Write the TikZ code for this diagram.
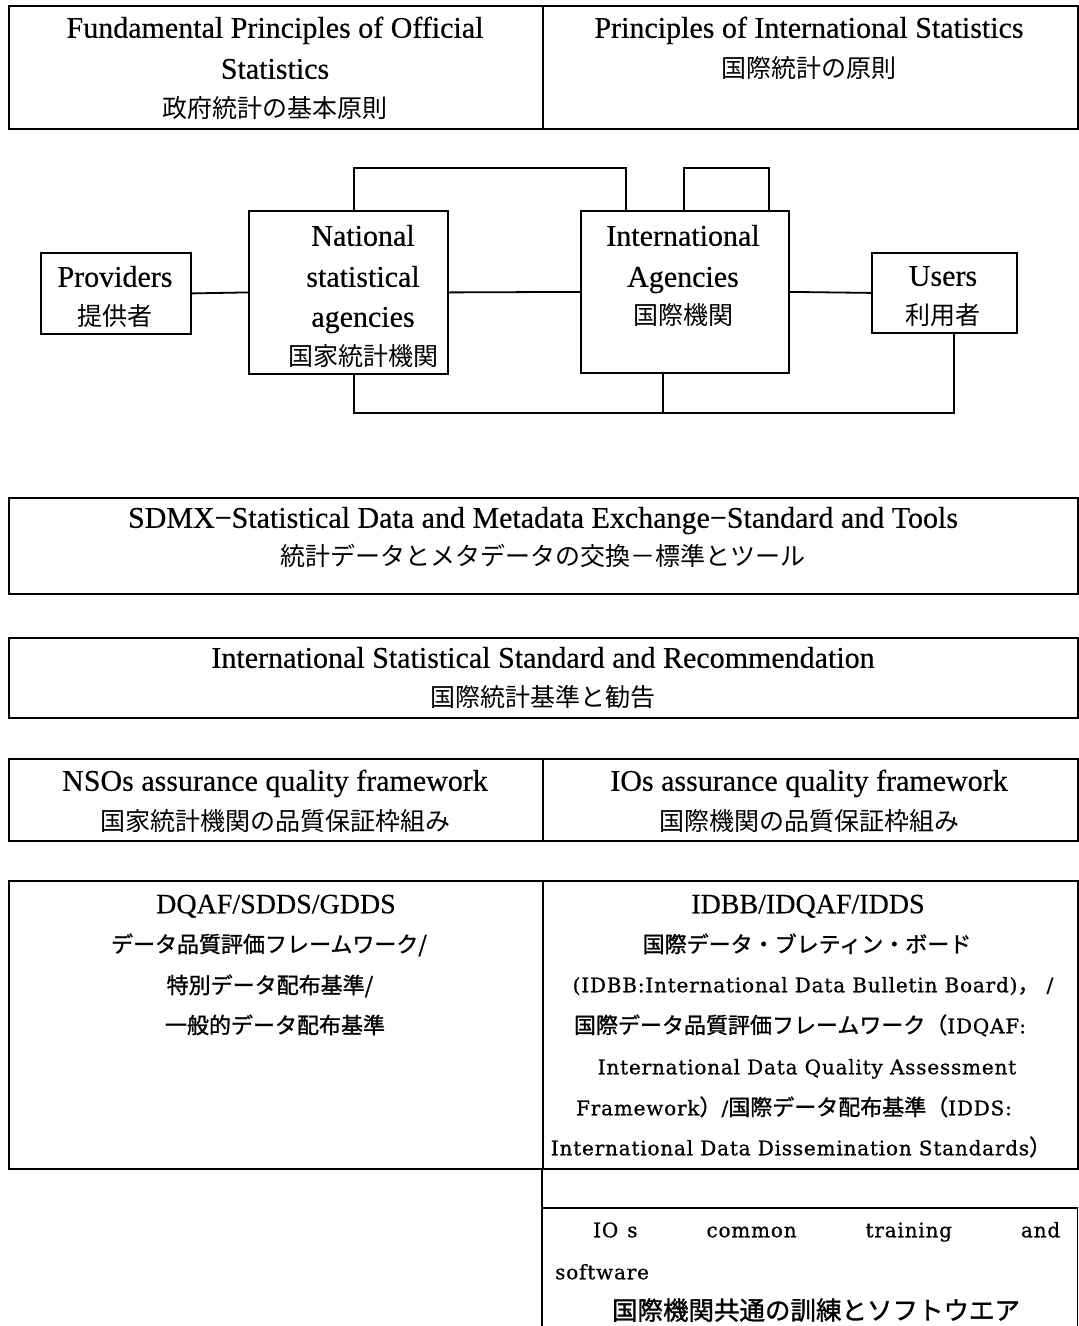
\documentclass[tikz,border=0pt]{standalone}
\usepackage{fontspec}
\setmainfont[FakeBold=0.4]{Liberation Serif}
\newfontfamily\jpf{Noto Sans CJK JP}
\newfontfamily\jpb[FakeBold=1.2]{Noto Sans CJK JP}
\newfontfamily\cenf[LetterSpace=4,FakeBold=0.8]{DejaVu Serif}
\newcommand\JB[1]{{\jpb\fontsize{22}{26}\selectfont #1}}
\begin{document}
\begin{tikzpicture}[x=1pt,y=-1pt,
  boxn/.style={draw, line width=1.8pt, inner sep=0pt, anchor=north west},
  ln/.style={inner sep=0pt, anchor=center},
  tim/.style={ln, font=\fontsize{30}{36}\selectfont, text height=19.5pt, text depth=0pt},
  timt/.style={ln, font=\fontsize{28}{34}\selectfont, text height=18.5pt, text depth=0pt},
  jpl/.style={ln, font=\jpf\fontsize{25}{30}\selectfont, text height=19pt, text depth=0pt},
  jps/.style={ln, font=\jpb\fontsize{22}{26}\selectfont, text height=16.7pt, text depth=0pt},
  jpm/.style={ln, font=\jpb\fontsize{25.5}{30}\selectfont, text height=19.4pt, text depth=0pt},
  cen/.style={ln, font=\cenf\fontsize{20}{24}\selectfont, text height=14.5pt, text depth=0pt},
  conn/.style={line width=1.8pt}
]
\useasboundingbox (0,0) rectangle (1079,1326);

% ---------- top principles ----------
\node[boxn, minimum width=534pt, minimum height=123pt] (fpl) at (8,5) {};
\node[boxn, minimum width=535pt, minimum height=123pt] (pis) at (542,5) {};
\node[tim] (t1a) at (275,28) {Fundamental Principles of Official};
\node[tim] (t1b) at (275,69) {Statistics};
\node[jpl] (t1c) at (275,108) {政府統計の基本原則};
\node[tim] (t2a) at (809,28) {Principles of International Statistics};
\node[jpl] (t2b) at (809,68) {国際統計の原則};

% ---------- actors ----------
\node[boxn, minimum width=150pt, minimum height=81pt] (prov) at (40,252) {};
\node[boxn, minimum width=199pt, minimum height=163pt] (nat) at (248,210) {};
\node[boxn, minimum width=208pt, minimum height=162pt] (intl) at (580,210) {};
\node[boxn, minimum width=145pt, minimum height=80pt] (users) at (871,252) {};

\node[tim] (pa) at (115,277) {Providers};
\node[jpl] (pb) at (115,316) {提供者};
\node[tim] (na) at (363,236) {National};
\node[tim] (nb) at (363,277) {statistical};
\node[tim] (nc) at (363,317) {agencies};
\node[jpl] (nd) at (363,356) {国家統計機関};
\node[tim] (ia) at (683,236) {International};
\node[tim] (ib) at (683,277) {Agencies};
\node[jpl] (ic) at (683,315) {国際機関};
\node[tim] (ua) at (943,276) {Users};
\node[jpl] (ub) at (943,315) {利用者};

\draw[conn] (prov.east) -- (nat.west);
\draw[conn] (nat.east) -- (intl.west);
\draw[conn] (intl.east) -- (users.west);
\draw[conn] ([xshift=5.5pt]nat.north) -- ++(0,-42) -| ([xshift=-59pt]intl.north);
\draw[conn] ([xshift=-1pt]intl.north) -- ++(0,-42) -| ([xshift=84pt]intl.north);
\coordinate (jb) at (663,413);
\draw[conn] ([xshift=5.5pt]nat.south) |- (jb) -| ([xshift=9.5pt]users.south);
\draw[conn] (intl.south -| jb) -- (jb);

% ---------- SDMX ----------
\node[boxn, minimum width=1069pt, minimum height=96pt] (sdmx) at (8,497) {};
\node[tim] (sa) at (543,518) {SDMX−Statistical Data and Metadata Exchange−Standard and Tools};
\node[jpl] (sb) at (543,556) {統計データとメタデータの交換－標準とツール};

% ---------- ISS ----------
\node[boxn, minimum width=1069pt, minimum height=80pt] (iss) at (8,637) {};
\node[tim] (isa) at (543,658) {International Statistical Standard and Recommendation};
\node[jpl] (isb) at (543,697) {国際統計基準と勧告};

% ---------- quality frameworks ----------
\node[boxn, minimum width=534pt, minimum height=82pt] (nsoq) at (8,758) {};
\node[boxn, minimum width=535pt, minimum height=82pt] (ioq) at (542,758) {};
\node[tim] (qa) at (275,781) {NSOs assurance quality framework};
\node[jpl] (qb) at (275,821) {国家統計機関の品質保証枠組み};
\node[tim] (qc) at (809,781) {IOs assurance quality framework};
\node[jpl] (qd) at (809,821) {国際機関の品質保証枠組み};

% ---------- DQAF / IDBB ----------
\node[boxn, minimum width=534pt, minimum height=288pt] (dqaf) at (8,880) {};
\node[boxn, minimum width=535pt, minimum height=288pt] (idbb) at (542,880) {};
\node[timt] (da) at (276,904) {DQAF/SDDS/GDDS};
\node[jps] (db) at (269,944) {データ品質評価フレームワーク/};
\node[jps] (dc) at (270,985) {特別データ配布基準/};
\node[jps] (dd) at (275,1025) {一般的データ配布基準};

\node[timt] (ra) at (808,904) {IDBB/IDQAF/IDDS};
\node[jps] (rb) at (807,944) {国際データ・ブレティン・ボード};
\node[cen] (rc) at (813,985) {(IDBB:International Data Bulletin Board)\JB{，} /};
\node[cen] (rd) at (800,1026) {\JB{国際データ品質評価フレームワーク（}IDQAF:};
\node[cen] (re) at (807,1067) {International Data Quality Assessment};
\node[cen] (rf) at (794,1108) {Framework\JB{）}/\JB{国際データ配布基準（}IDDS:};
\node[cen] (rg) at (801,1148) {International Data Dissemination Standards\JB{）}};

% ---------- IO common training ----------
\node[inner sep=0pt, anchor=north west, minimum width=535pt, minimum height=118pt] (iob) at (542,1208) {};
\draw[conn] (idbb.south west) -- (iob.south west);
\draw[conn] (iob.north west) -- (iob.north east) -- (iob.south east);
\node[cen, anchor=west] (oa) at (593,1230) {\makebox[467pt][s]{IO\hspace{9pt}s\hfill common\hfill training\hfill and}};
\node[cen, anchor=west] (ob) at (555,1272) {software};
\node[jpm] (oc) at (816,1310) {国際機関共通の訓練とソフトウエア};
\end{tikzpicture}
\end{document}
